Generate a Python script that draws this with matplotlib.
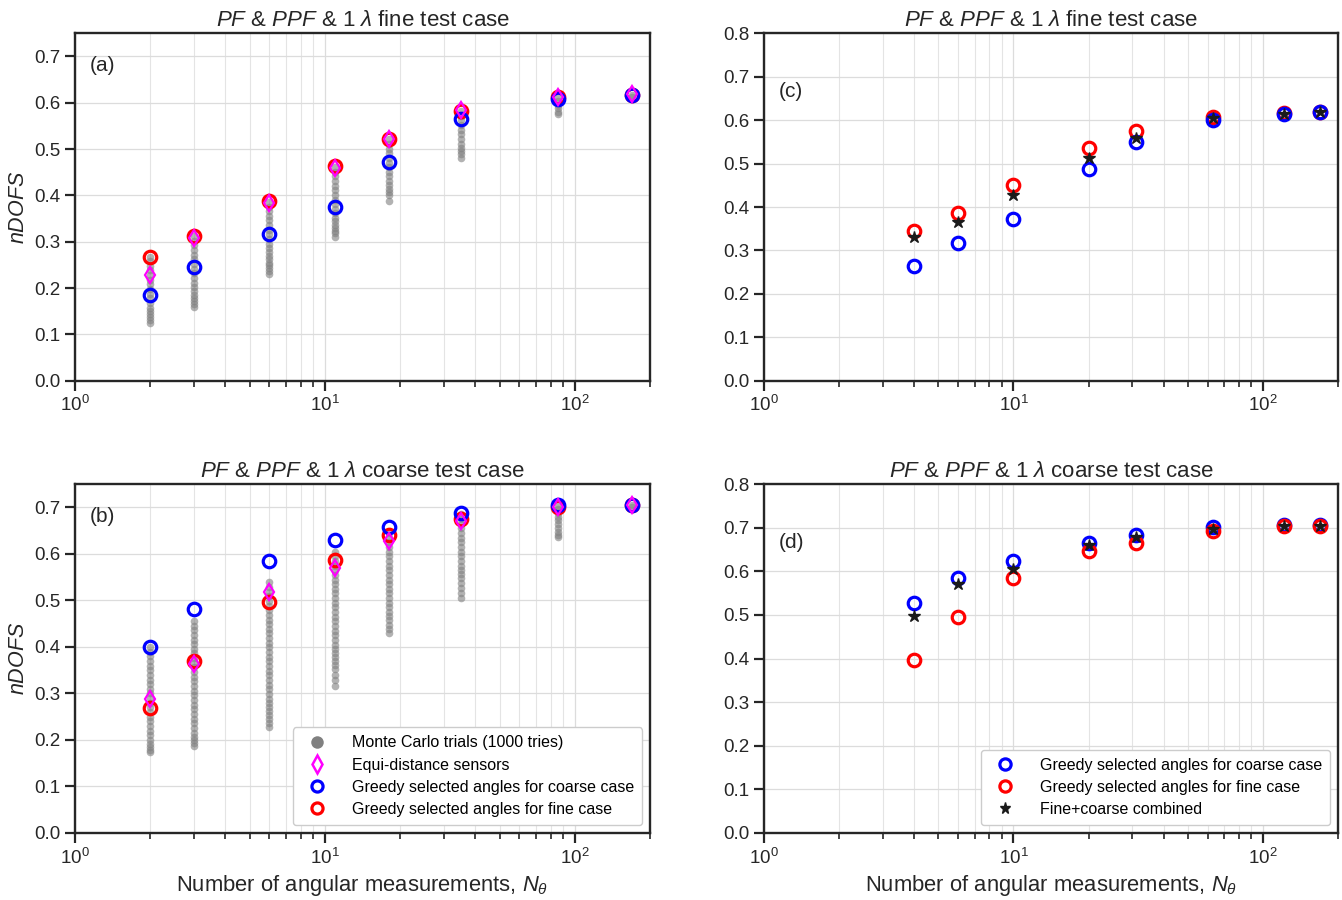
import matplotlib
matplotlib.use("Agg")
import matplotlib.pyplot as plt
from matplotlib.lines import Line2D
from matplotlib.ticker import LogLocator, NullFormatter

plt.rcParams["font.family"] = ["Liberation Sans", "DejaVu Sans"]
plt.rcParams["mathtext.fontset"] = "custom"
plt.rcParams["mathtext.rm"] = "Liberation Sans"
plt.rcParams["mathtext.it"] = "Liberation Sans:italic"

# left column: Monte Carlo / equi-distance / greedy comparison
x_ab = [2, 3, 6, 11, 18, 35, 86, 170]

mc_fine = [
    [0.268, 0.258, 0.248, 0.238, 0.228, 0.218, 0.208, 0.198, 0.188, 0.178, 0.168, 0.158, 0.150, 0.143, 0.137, 0.131, 0.125],
    [0.312, 0.302, 0.292, 0.282, 0.272, 0.262, 0.252, 0.242, 0.232, 0.222, 0.212, 0.202, 0.193, 0.185, 0.178, 0.171, 0.165, 0.159],
    [0.386, 0.376, 0.366, 0.356, 0.346, 0.336, 0.326, 0.316, 0.306, 0.296, 0.286, 0.277, 0.269, 0.262, 0.255, 0.249, 0.243, 0.237, 0.231],
    [0.461, 0.451, 0.441, 0.431, 0.421, 0.411, 0.401, 0.391, 0.381, 0.371, 0.361, 0.352, 0.344, 0.337, 0.330, 0.324, 0.318, 0.311],
    [0.521, 0.511, 0.501, 0.491, 0.481, 0.471, 0.461, 0.451, 0.441, 0.431, 0.422, 0.414, 0.407, 0.400, 0.389],
    [0.582, 0.572, 0.562, 0.552, 0.542, 0.532, 0.522, 0.512, 0.503, 0.496, 0.490, 0.481],
    [0.612, 0.604, 0.596, 0.588, 0.581, 0.575],
    [0.617, 0.613],
]
equi_fine = [0.228, 0.309, 0.383, 0.460, 0.522, 0.584, 0.612, 0.618]
greedy_coarse_a = [0.186, 0.245, 0.316, 0.376, 0.473, 0.566, 0.609, 0.617]
greedy_fine_a = [0.268, 0.313, 0.388, 0.463, 0.522, 0.582, 0.613, 0.617]

mc_coarse = [
    [0.400, 0.390, 0.380, 0.370, 0.360, 0.350, 0.340, 0.330, 0.320, 0.310, 0.300, 0.290, 0.280, 0.270, 0.260, 0.250,
     0.240, 0.230, 0.220, 0.210, 0.200, 0.192, 0.185, 0.179, 0.174],
    [0.456, 0.446, 0.436, 0.426, 0.416, 0.406, 0.396, 0.386, 0.376, 0.366, 0.356, 0.346, 0.336, 0.326, 0.316, 0.306,
     0.296, 0.286, 0.276, 0.266, 0.256, 0.246, 0.236, 0.226, 0.216, 0.207, 0.199, 0.193, 0.188],
    [0.539, 0.529, 0.519, 0.509, 0.499, 0.489, 0.479, 0.469, 0.459, 0.449, 0.439, 0.429, 0.419, 0.409, 0.399, 0.389,
     0.379, 0.369, 0.359, 0.349, 0.339, 0.329, 0.319, 0.309, 0.299, 0.289, 0.280, 0.271, 0.262, 0.254, 0.246, 0.237, 0.228],
    [0.605, 0.595, 0.585, 0.575, 0.565, 0.555, 0.545, 0.535, 0.525, 0.515, 0.505, 0.495, 0.485, 0.475, 0.465, 0.455,
     0.445, 0.435, 0.425, 0.415, 0.405, 0.396, 0.387, 0.378, 0.370, 0.361, 0.352, 0.340, 0.328, 0.315],
    [0.645, 0.635, 0.625, 0.615, 0.605, 0.595, 0.585, 0.575, 0.565, 0.555, 0.545, 0.535, 0.525, 0.515, 0.505, 0.495,
     0.485, 0.475, 0.466, 0.457, 0.448, 0.439, 0.430],
    [0.685, 0.675, 0.665, 0.655, 0.645, 0.635, 0.625, 0.615, 0.605, 0.595, 0.585, 0.575, 0.566, 0.557, 0.548, 0.538,
     0.527, 0.516, 0.505],
    [0.704, 0.696, 0.688, 0.680, 0.672, 0.664, 0.656, 0.648, 0.641, 0.636],
    [0.706, 0.702],
]
equi_coarse = [0.287, 0.363, 0.519, 0.570, 0.627, 0.670, 0.701, 0.706]
greedy_coarse_b = [0.400, 0.481, 0.585, 0.631, 0.659, 0.689, 0.706, 0.706]
greedy_fine_b = [0.269, 0.370, 0.497, 0.588, 0.640, 0.676, 0.701, 0.706]

# right column: greedy selections and combined
x_cd = [4, 6, 10, 20, 31, 63, 122, 170]
greedy_coarse_c = [0.263, 0.316, 0.372, 0.488, 0.550, 0.601, 0.615, 0.618]
greedy_fine_c = [0.345, 0.387, 0.450, 0.535, 0.575, 0.608, 0.617, 0.618]
combined_c = [0.332, 0.365, 0.427, 0.512, 0.558, 0.604, 0.615, 0.618]

greedy_coarse_d = [0.527, 0.584, 0.623, 0.664, 0.684, 0.702, 0.706, 0.706]
greedy_fine_d = [0.397, 0.496, 0.584, 0.646, 0.665, 0.693, 0.703, 0.705]
combined_d = [0.498, 0.571, 0.605, 0.661, 0.680, 0.697, 0.704, 0.705]

INK = "#262626"
XLABEL = r"Number of angular measurements, $N_\theta$"


def style_axes(ax, ytop, yticks):
    ax.set_xscale("log")
    ax.set_xlim(1, 200)
    ax.set_ylim(0, ytop)
    ax.set_yticks(yticks)
    ax.set_yticklabels([f"{t:.1f}" for t in yticks])
    ax.xaxis.set_minor_locator(LogLocator(base=10, subs=range(2, 10)))
    ax.xaxis.set_minor_formatter(NullFormatter())
    ax.grid(True, which="major", color="#dcdcdc", linewidth=0.9)
    ax.grid(True, which="minor", axis="x", color="#e4e4e4", linewidth=0.8)
    ax.set_axisbelow(True)
    for s in ax.spines.values():
        s.set_color(INK)
        s.set_linewidth(1.7)
    ax.tick_params(which="major", direction="out", length=7, width=1.6, colors=INK, labelsize=13.5)
    ax.tick_params(which="minor", direction="out", length=4.5, width=1.2, colors=INK)


def ring(ax, x, y, color, label=None):
    ax.plot(x, y, "o", ls="none", mfc="none", mec=color, ms=9, mew=2.3, label=label)


def title(ax, case):
    ax.set_title(r"$PF$ & $PPF$ & 1 $\lambda$ " + case + " test case", fontsize=16, color=INK, pad=5)


fig = plt.figure(figsize=(13.42, 9.0), dpi=100)
ax_a = fig.add_axes([0.0559, 0.577, 0.4285, 0.386])
ax_b = fig.add_axes([0.0559, 0.0745, 0.4285, 0.3875])
ax_c = fig.add_axes([0.5693, 0.577, 0.4277, 0.386])
ax_d = fig.add_axes([0.5693, 0.0745, 0.4277, 0.3875])

yt_left = [0.0, 0.1, 0.2, 0.3, 0.4, 0.5, 0.6, 0.7]
yt_right = [0.0, 0.1, 0.2, 0.3, 0.4, 0.5, 0.6, 0.7, 0.8]

for ax, mc, equi, gc, gf, tag in [
    (ax_a, mc_fine, equi_fine, greedy_coarse_a, greedy_fine_a, "(a)"),
    (ax_b, mc_coarse, equi_coarse, greedy_coarse_b, greedy_fine_b, "(b)"),
]:
    style_axes(ax, 0.75, yt_left)
    for xv, ys in zip(x_ab, mc):
        ax.plot([xv] * len(ys), ys, "o", ls="none", color="gray", alpha=0.6, ms=5.5, mew=0)
    ring(ax, x_ab, gf, "red")
    ring(ax, x_ab, gc, "blue")
    ax.plot(x_ab, equi, "d", ls="none", mfc="none", mec="magenta", ms=8.5, mew=1.6)
    ax.text(0.025, 0.935, tag, transform=ax.transAxes, fontsize=15, color=INK, va="top")
    ax.set_ylabel(r"$nDOFS$", fontsize=15.5, color=INK)

title(ax_a, "fine")
title(ax_b, "coarse")
ax_b.set_xlabel(XLABEL, fontsize=15.8, color=INK)

handles_b = [
    Line2D([], [], marker="o", ls="none", color="gray", ms=9, mew=0, label="Monte Carlo trials (1000 tries)"),
    Line2D([], [], marker="d", ls="none", mfc="none", mec="magenta", ms=9, mew=1.8, label="Equi-distance sensors"),
    Line2D([], [], marker="o", ls="none", mfc="none", mec="blue", ms=8, mew=2.3, label="Greedy selected angles for coarse case"),
    Line2D([], [], marker="o", ls="none", mfc="none", mec="red", ms=8, mew=2.3, label="Greedy selected angles for fine case"),
]
ax_b.legend(handles=handles_b, loc="lower right", fontsize=11.5, frameon=True, edgecolor="#cccccc",
            framealpha=1.0, handletextpad=1.2, borderpad=0.5, labelspacing=0.45)

# (c): red under blue; (d): blue under red
style_axes(ax_c, 0.8, yt_right)
ring(ax_c, x_cd, greedy_fine_c, "red")
ring(ax_c, x_cd, greedy_coarse_c, "blue")
ax_c.plot(x_cd, combined_c, "*", ls="none", color="#1a1a1a", ms=9)
ax_c.text(0.025, 0.86, "(c)", transform=ax_c.transAxes, fontsize=15, color=INK, va="top")
title(ax_c, "fine")

style_axes(ax_d, 0.8, yt_right)
ring(ax_d, x_cd, greedy_coarse_d, "blue", "Greedy selected angles for coarse case")
ring(ax_d, x_cd, greedy_fine_d, "red", "Greedy selected angles for fine case")
ax_d.plot(x_cd, combined_d, "*", ls="none", color="#1a1a1a", ms=9, label="Fine+coarse combined")
ax_d.text(0.025, 0.86, "(d)", transform=ax_d.transAxes, fontsize=15, color=INK, va="top")
title(ax_d, "coarse")
ax_d.set_xlabel(XLABEL, fontsize=15.8, color=INK)
ax_d.legend(loc="lower right", fontsize=11.5, frameon=True, edgecolor="#cccccc", framealpha=1.0,
            handletextpad=1.2, borderpad=0.5, labelspacing=0.45, markerscale=0.9)

fig.savefig("out.png", dpi=100)
